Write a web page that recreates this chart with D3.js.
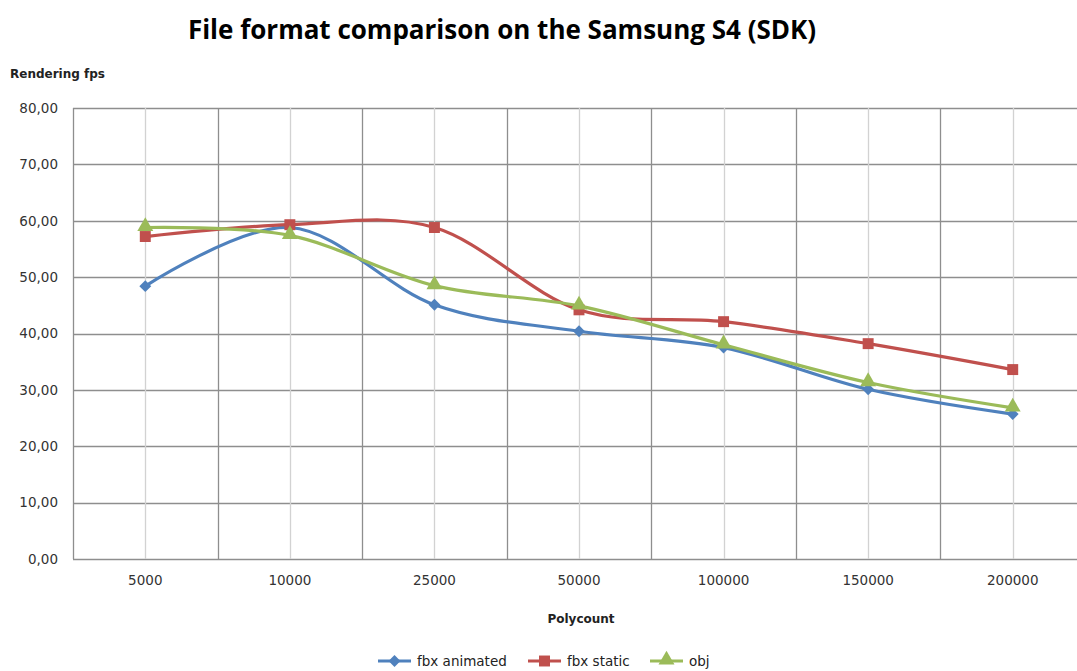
<!DOCTYPE html>
<html>
<head>
<meta charset="utf-8">
<script src="https://cdn.jsdelivr.net/npm/d3@7"></script>
<style>
  body { margin: 0; background: #fff; overflow: hidden; }
  .title { font-family: "Open Sans", sans-serif; font-weight: 700; font-size: 26px; fill: #000; }
  .axisTitle { font-family: "DejaVu Sans", sans-serif; font-weight: 700; font-size: 12px; fill: #222; }
  .tick text { font-family: "DejaVu Sans", sans-serif; font-size: 13.5px; fill: #333; }
  .legend text { font-family: "DejaVu Sans", sans-serif; font-size: 13.5px; fill: #222; }
</style>
</head>
<body>
<script>
(function (){

    //chart data
    var categories = ["5000", "10000", "25000", "50000", "100000", "150000", "200000"];
    var fbxAnimated = [48.4, 58.8, 45.1, 40.4, 37.5, 30.1, 25.7];
    var fbxStatic = [57.2, 59.3, 58.8, 44.2, 42.1, 38.2, 33.6];
    var objValues = [58.8, 57.4, 48.5, 44.9, 38.0, 31.3, 26.8];
    var yTicks = [0, 10, 20, 30, 40, 50, 60, 70, 80];

    var series = [
        {name: "fbx animated", values: fbxAnimated, color: "#4F81BD", marker: "diamond"},
        {name: "fbx static", values: fbxStatic, color: "#C0504D", marker: "square"},
        {name: "obj", values: objValues, color: "#9BBB59", marker: "triangle"}
    ];

    var width = 1077, height = 671;
    var left = 73, right = 1085, top = 108, bottom = 559;

    var svg = d3.select("body")
        .append("svg")
        .attr("width", width)
        .attr("height", height);

    //scales
    var x = d3.scaleBand()
        .domain(categories)
        .range([left, right]);

    var y = d3.scaleLinear()
        .domain([0, 80])
        .range([bottom, top]);

    var cx = function(c){ return x(c) + x.bandwidth() / 2; };

    //horizontal grid
    svg.append("g")
        .selectAll("line")
        .data(yTicks)
        .enter()
        .append("line")
        .attr("x1", left)
        .attr("x2", right)
        .attr("y1", function(d){ return Math.round(y(d)) + 0.5; })
        .attr("y2", function(d){ return Math.round(y(d)) + 0.5; })
        .attr("stroke", "#8e8e8e")
        .attr("stroke-width", 1.3);

    //vertical grid at category centers (light)
    svg.append("g")
        .selectAll("line")
        .data(categories)
        .enter()
        .append("line")
        .attr("x1", function(d){ return Math.round(cx(d)) + 0.5; })
        .attr("x2", function(d){ return Math.round(cx(d)) + 0.5; })
        .attr("y1", top)
        .attr("y2", bottom)
        .attr("stroke", "#d2d2d2")
        .attr("stroke-width", 1.3);

    //vertical grid at category boundaries (dark)
    var bounds = categories.map(function(c){ return x(c); }).concat([right]);
    svg.append("g")
        .selectAll("line")
        .data(bounds)
        .enter()
        .append("line")
        .attr("x1", function(d){ return Math.round(d) + 0.5; })
        .attr("x2", function(d){ return Math.round(d) + 0.5; })
        .attr("y1", top)
        .attr("y2", bottom)
        .attr("stroke", "#8e8e8e")
        .attr("stroke-width", 1.3);

    //y axis labels
    var yAxis = d3.axisLeft(y)
        .tickValues(yTicks)
        .tickSize(0)
        .tickPadding(15)
        .tickFormat(function(d){ return d3.format(".2f")(d).replace(".", ","); });

    svg.append("g")
        .attr("transform", "translate(" + left + ",0)")
        .call(yAxis)
        .call(function(g){ g.select(".domain").remove(); });

    //x axis labels
    var xAxis = d3.axisBottom(x)
        .tickSize(0)
        .tickPadding(16);

    svg.append("g")
        .attr("transform", "translate(0," + bottom + ")")
        .call(xAxis)
        .call(function(g){ g.select(".domain").remove(); });

    //lines
    var line = d3.line()
        .x(function(d, i){ return cx(categories[i]); })
        .y(function(d){ return y(d); })
        .curve(d3.curveCardinal.tension(0));

    series.forEach(function(s){
        svg.append("path")
            .datum(s.values)
            .attr("fill", "none")
            .attr("stroke", s.color)
            .attr("stroke-width", 3.2)
            .attr("stroke-linejoin", "round")
            .attr("d", line);
    });

    //markers
    var symbolFor = {
        diamond: d3.symbol().type(d3.symbolDiamond2).size(90),
        square: d3.symbol().type(d3.symbolSquare).size(120),
        triangle: d3.symbol().type(d3.symbolTriangle).size(110)
    };

    series.forEach(function(s){
        svg.append("g")
            .selectAll("path")
            .data(s.values)
            .enter()
            .append("path")
            .attr("d", symbolFor[s.marker])
            .attr("transform", function(d, i){
                var dy = s.marker == "triangle" ? -1 : 0;
                return "translate(" + cx(categories[i]) + "," + (y(d) + dy) + ")";
            })
            .attr("fill", s.color);
    });

    //titles
    svg.append("text")
        .attr("class", "title")
        .attr("x", 502)
        .attr("y", 39)
        .attr("text-anchor", "middle")
        .text("File format comparison on the Samsung S4 (SDK)");

    svg.append("text")
        .attr("class", "axisTitle")
        .attr("x", 10)
        .attr("y", 78)
        .text("Rendering fps");

    svg.append("text")
        .attr("class", "axisTitle")
        .attr("x", 581)
        .attr("y", 623)
        .attr("text-anchor", "middle")
        .text("Polycount");

    //legend
    var legendX = [378, 528, 650];
    var legend = svg.append("g").attr("class", "legend");
    series.forEach(function(s, i){
        var g = legend.append("g")
            .attr("transform", "translate(" + legendX[i] + ",661)");
        g.append("line")
            .attr("x1", 0)
            .attr("x2", 33)
            .attr("stroke", s.color)
            .attr("stroke-width", 3.2);
        g.append("path")
            .attr("d", symbolFor[s.marker])
            .attr("transform", "translate(16.5," + (s.marker == "triangle" ? -1 : 0) + ")")
            .attr("fill", s.color);
        g.append("text")
            .attr("x", 39)
            .attr("y", 5)
            .text(s.name);
    });

})();
</script>
</body>
</html>
